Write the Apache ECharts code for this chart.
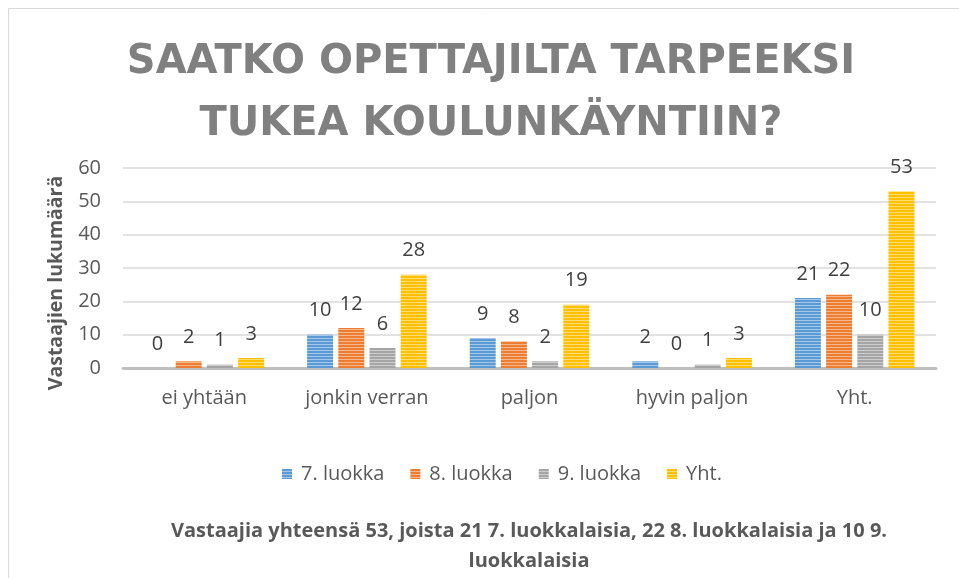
<!DOCTYPE html>
<html><head><meta charset="utf-8">
<script src="https://cdn.jsdelivr.net/npm/echarts@6/dist/echarts.min.js"></script>
<style>html,body{margin:0;padding:0;background:#fff}#c{width:959px;height:578px}</style>
</head><body><div id="c"></div>
<script>
const categories = ['ei yhtään', 'jonkin verran', 'paljon', 'hyvin paljon', 'Yht.'];
const seriesNames = ['7. luokka', '8. luokka', '9. luokka', 'Yht.'];
const luokka7 = [0, 10, 9, 2, 21];
const luokka8 = [2, 12, 8, 0, 22];
const luokka9 = [1, 6, 2, 1, 10];
const yhteensa = [3, 28, 19, 3, 53];
const yTicks = [0, 10, 20, 30, 40, 50, 60];
const titleText = 'SAATKO OPETTAJILTA TARPEEKSI\nTUKEA KOULUNKÄYNTIIN?';
const yAxisTitle = 'Vastaajien lukumäärä';
const noteText = 'Vastaajia yhteensä 53, joista 21 7. luokkalaisia, 22 8. luokkalaisia ja 10 9.\nluokkalaisia';

const colors = ['#5B9BD5', '#ED7D31', '#A5A5A5', '#FFC000'];
function stripe(c) {
  const cv = document.createElement('canvas');
  cv.width = 4; cv.height = 3;
  const ctx = cv.getContext('2d');
  ctx.fillStyle = c; ctx.fillRect(0, 0, 4, 3);
  ctx.fillStyle = 'rgba(255,255,255,0.45)'; ctx.fillRect(0, 2, 4, 1);
  return { image: cv, repeat: 'repeat' };
}
const font = '"Open Sans", sans-serif';
const data = [luokka7, luokka8, luokka9, yhteensa];
const chart = echarts.init(document.getElementById('c'));
chart.setOption({
  animation: false,
  title: {
    text: titleText, left: 486, top: 27, textAlign: 'center',
    textStyle: { fontFamily: '"DejaVu Sans"', fontWeight: 'bold', fontSize: 40, lineHeight: 62, color: '#808080' }
  },
  legend: {
    data: seriesNames, top: 459, left: 277,
    icon: 'rect', itemWidth: 10, itemHeight: 10, itemGap: 26,
    textStyle: { fontFamily: font, fontSize: 20, color: '#595959', padding: [0, 0, 0, 4] }
  },
  grid: { left: 123, right: 23, top: 168, bottom: 210 },
  xAxis: {
    type: 'category', data: categories,
    axisLine: { lineStyle: { color: '#BFBFBF', width: 3 } },
    axisTick: { show: false },
    axisLabel: { fontFamily: font, fontSize: 20, color: '#595959', margin: 20 }
  },
  yAxis: {
    type: 'value', min: 0, max: 60, interval: 10,
    axisLine: { show: false }, axisTick: { show: false },
    splitLine: { lineStyle: { color: '#D9D9D9', width: 1.5 } },
    axisLabel: { fontFamily: font, fontSize: 20, color: '#595959', margin: 22,
      formatter: v => yTicks.includes(v) ? String(v) : '' }
  },
  graphic: [
    { type: 'rect', shape: { x: 8.5, y: 8.5, width: 1000, height: 1000 }, style: { fill: 'none', stroke: '#D9D9D9', lineWidth: 1 } },
    { type: 'text', x: 56, y: 283, rotation: Math.PI / 2,
      style: { text: yAxisTitle, align: 'center', verticalAlign: 'middle', fontFamily: font, fontWeight: 'bold', fontSize: 19.5, fill: '#595959' } },
    { type: 'text', x: 529, y: 546,
      style: { text: noteText, align: 'center', verticalAlign: 'middle', fontFamily: font, fontWeight: 'bold', fontSize: 20, lineHeight: 30, fill: '#595959' } }
  ],
  series: data.map((d, i) => ({
    name: seriesNames[i], type: 'bar', data: d,
    barWidth: 26, barGap: '20%',
    itemStyle: { color: stripe(colors[i]) },
    label: { show: true, position: 'top', distance: 14, fontFamily: font, fontSize: 20, color: '#404040' }
  }))
});
</script></body></html>
